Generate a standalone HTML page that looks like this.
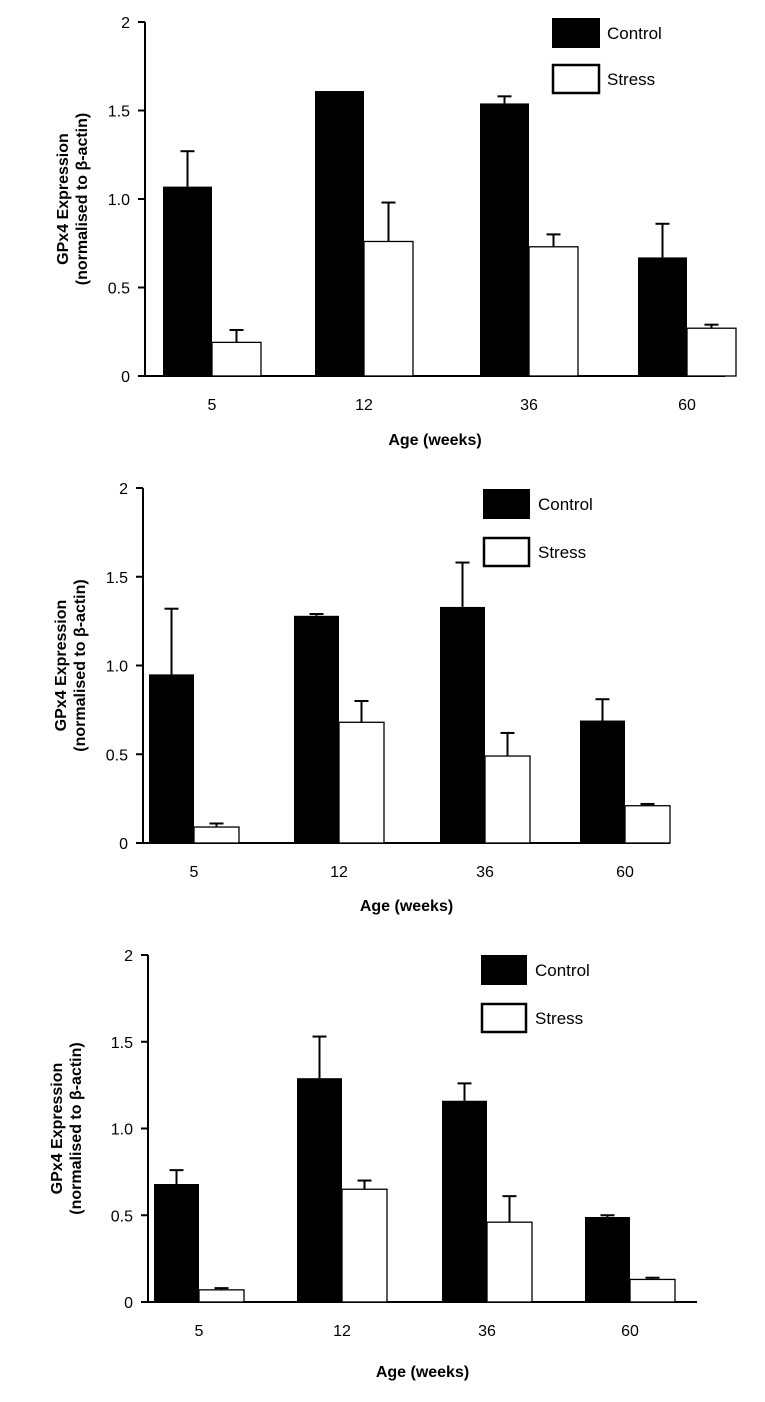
<!DOCTYPE html>
<html><head><meta charset="utf-8"><style>
body{margin:0;background:#fff}
svg{display:block;font-family:"Liberation Sans",Arial,sans-serif}
</style></head><body>
<svg id="c" width="765" height="1402"></svg>
<script>
const categories=["5","12","36","60"];
const yTicks=[0,0.5,1.0,1.5,2];
const yTickLabels=["0","0.5","1.0","1.5","2"];
const ctrl1=[1.07,1.61,1.54,0.67];
const ctrlErr1=[1.27,1.61,1.58,0.86];
const str1=[0.19,0.76,0.73,0.27];
const strErr1=[0.26,0.98,0.80,0.29];
const ctrl2=[0.95,1.28,1.33,0.69];
const ctrlErr2=[1.32,1.29,1.58,0.81];
const str2=[0.09,0.68,0.49,0.21];
const strErr2=[0.11,0.80,0.62,0.22];
const ctrl3=[0.68,1.29,1.16,0.49];
const ctrlErr3=[0.76,1.53,1.26,0.50];
const str3=[0.07,0.65,0.46,0.13];
const strErr3=[0.08,0.70,0.61,0.14];

const svg=document.getElementById('c');
const NS='http://www.w3.org/2000/svg';
function el(t,a,p){const e=document.createElementNS(NS,t);for(const k in a)e.setAttribute(k,a[k]);(p||svg).appendChild(e);return e;}

const panels=[
 {ctrl:ctrl1,ce:ctrlErr1,str:str1,se:strErr1,ax:145,y0:376,y2:22,xEnd:725,starts:[163,315,480,638],bw:49,xl:410,title:445,lg:{x:552,y:18,w:48,h:30,gap:46,tx:607},ylx:68},
 {ctrl:ctrl2,ce:ctrlErr2,str:str2,se:strErr2,ax:143,y0:843,y2:488,xEnd:670,starts:[149,294,440,580],bw:45,xl:877,title:911,lg:{x:483,y:489,w:47,h:30,gap:48,tx:538},ylx:66},
 {ctrl:ctrl3,ce:ctrlErr3,str:str3,se:strErr3,ax:148,y0:1302,y2:955,xEnd:697,starts:[154,297,442,585],bw:45,xl:1336,title:1377,lg:{x:481,y:955,w:46,h:30,gap:48,tx:535},ylx:62}
];

panels.forEach((p,pi)=>{
 const g=el('g',{});
 
 
 const y=v=>p.y0-(p.y0-p.y2)*v/2;
 const ya=el('line',{x1:p.ax,y1:p.y2,x2:p.ax,y2:p.y0+1,stroke:'#000','stroke-width':2},g);
 
 
 const xa=el('line',{x1:p.ax-7,y1:p.y0,x2:p.xEnd,y2:p.y0,stroke:'#000','stroke-width':2},g);
 
 
 yTicks.forEach((t,i)=>{
  el('line',{x1:p.ax-7,y1:y(t),x2:p.ax,y2:y(t),stroke:'#000','stroke-width':2},g);
  const tx=el('text',{x:p.ax-15,y:y(t)+6,'font-size':16,'text-anchor':'end'},g);
  tx.textContent=yTickLabels[i];
  
  
 });
 categories.forEach((c,i)=>{
  const x0=p.starts[i], bw=p.bw;
  [[x0,p.ctrl[i],p.ce[i]],[x0+bw,p.str[i],p.se[i]]].forEach(([bx,v,e])=>{
   const cx=bx+bw/2;
   if(e>v){
    el('line',{x1:cx,y1:y(v),x2:cx,y2:y(e),stroke:'#000','stroke-width':2},g);
    el('line',{x1:cx-7,y1:y(e),x2:cx+7,y2:y(e),stroke:'#000','stroke-width':2},g);
   }
  });
  const b1=el('rect',{x:x0,y:y(p.ctrl[i]),width:bw,height:p.y0-y(p.ctrl[i]),fill:'#000'},g);
  
  
  const b2=el('rect',{x:x0+bw,y:y(p.str[i]),width:bw,height:p.y0-y(p.str[i]),fill:'#fff',stroke:'#000','stroke-width':1.3},g);
  
  
  const t=el('text',{x:x0+bw,y:p.xl,'font-size':16,'text-anchor':'middle'},g);
  t.textContent=c;
  
  
 });
 const xt=el('text',{x:(p.ax+p.xEnd)/2,y:p.title,'font-size':16,'font-weight':'bold','text-anchor':'middle'},g);
 xt.textContent='Age (weeks)';
 
 
 const cy=(p.y0+p.y2)/2;
 const yt=el('text',{transform:`translate(${p.ylx},${cy}) rotate(-90)`,'font-size':16,'font-weight':'bold','text-anchor':'middle'},g);
 
 
 const s1=el('tspan',{x:0,dy:0},yt);s1.textContent='GPx4 Expression';
 const s2=el('tspan',{x:0,dy:19},yt);s2.textContent='(normalised to β-actin)';
 const L=p.lg;
 const l1=el('rect',{x:L.x,y:L.y,width:L.w,height:L.h,fill:'#000'},g);
 
 
 const lt1=el('text',{x:L.tx,y:L.y+L.h/2+6,'font-size':17},g);lt1.textContent='Control';
 
 
 const l2=el('rect',{x:L.x+1,y:L.y+L.gap+1,width:L.w-2,height:L.h-2,fill:'#fff',stroke:'#000','stroke-width':2.5},g);
 
 
 const lt2=el('text',{x:L.tx,y:L.y+L.gap+L.h/2+6,'font-size':17},g);lt2.textContent='Stress';
 
 
});
</script>
</body></html>
